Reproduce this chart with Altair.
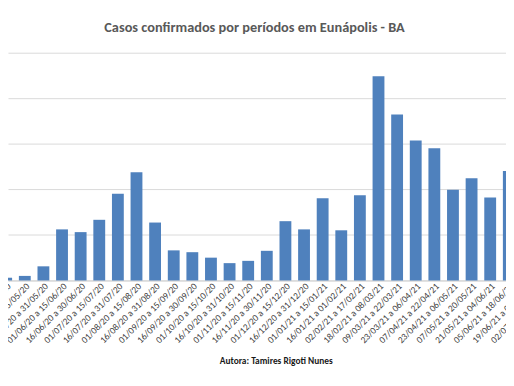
import altair as alt
import pandas as pd

title_text = "Casos confirmados por períodos em Eunápolis - BA"
author_text = "Autora: Tamires Rigoti Nunes"

periods = [
    "16/04/20 a 30/04/20", "01/05/20 a 15/05/20", "16/05/20 a 31/05/20",
    "01/06/20 a 15/06/20", "16/06/20 a 30/06/20", "01/07/20 a 15/07/20",
    "16/07/20 a 31/07/20", "01/08/20 a 15/08/20", "16/08/20 a 31/08/20",
    "01/09/20 a 15/09/20", "16/09/20 a 30/09/20", "01/10/20 a 15/10/20",
    "16/10/20 a 31/10/20", "01/11/20 a 15/11/20", "16/11/20 a 30/11/20",
    "01/12/20 a 15/12/20", "16/12/20 a 31/12/20", "01/01/21 a 15/01/21",
    "16/01/21 a 01/02/21", "02/02/21 a 17/02/21", "18/02/21 a 08/03/21",
    "09/03/21 a 22/03/21", "23/03/21 a 06/04/21", "07/04/21 a 22/04/21",
    "23/04/21 a 06/05/21", "07/05/21 a 20/05/21", "21/05/21 a 04/06/21",
    "05/06/21 a 18/06/21", "19/06/21 a 01/07/21", "02/07/21 a 16/07/21",
]

cases = [6, 10, 31, 112, 106, 133, 190, 237, 127, 66, 62, 50, 38, 43,
         65, 130, 112, 180, 110, 187, 448, 364, 307, 290, 199, 224, 182, 240]

grid_values = [100, 200, 300, 400, 500]

bars_df = pd.DataFrame({"i": list(range(len(cases))), "value": cases,
                        "periodo": periods[:len(cases)]})
labels_df = pd.DataFrame({"i": list(range(len(periods))), "periodo": periods})

FONT = "Carlito, Lato, sans-serif"

xs = alt.Scale(domain=[0.0977, 26.849], nice=False, zero=False)
ys = alt.Scale(domain=[0, 592.5], nice=False, zero=True)

bars = alt.Chart(bars_df).transform_calculate(
    x0="datum.i - 0.318", x1="datum.i + 0.318"
).mark_bar(color="#4f81bd").encode(
    x=alt.X("x0:Q", scale=xs,
            axis=alt.Axis(labels=False, ticks=False, grid=False, domain=True,
                          domainColor="#bfbfbf", domainWidth=1, title=None)),
    x2="x1:Q",
    y=alt.Y("value:Q", scale=ys,
            axis=alt.Axis(values=grid_values, labels=False, ticks=False,
                          domain=False, grid=True, gridColor="#d9d9d9",
                          gridWidth=1, title=None)),
    y2=alt.datum(0),
)

labels = alt.Chart(labels_df).transform_calculate(
    xl="datum.i + 0.17"
).mark_text(angle=315, align="right", baseline="middle", font=FONT,
            fontSize=9.5, color="#404040").encode(
    x=alt.X("xl:Q", scale=xs),
    y=alt.value(278),
    text="periodo:N",
)

title = alt.Chart(alt.Data(values=[{"t": title_text}])).mark_text(
    align="center", baseline="middle", font=FONT, fontSize=14.5,
    color="#595959", fontWeight="bold"
).encode(x=alt.value(249.5), y=alt.value(18), text="t:N")

author = alt.Chart(alt.Data(values=[{"t": author_text}])).mark_text(
    align="center", baseline="middle", font=FONT, fontSize=9.5,
    color="#1a1a1a", fontWeight="bold"
).encode(x=alt.value(271.5), y=alt.value(355), text="t:N")

chart = alt.layer(bars, labels, title, author).properties(
    width=504, height=273.5,
    autosize=alt.AutoSizeParams(type="none"),
    padding={"left": 0, "top": 0, "right": 0, "bottom": 100},
    background="white",
).configure_view(stroke=None)

chart.save("out.html", embed_options={"renderer": "svg", "actions": False})
